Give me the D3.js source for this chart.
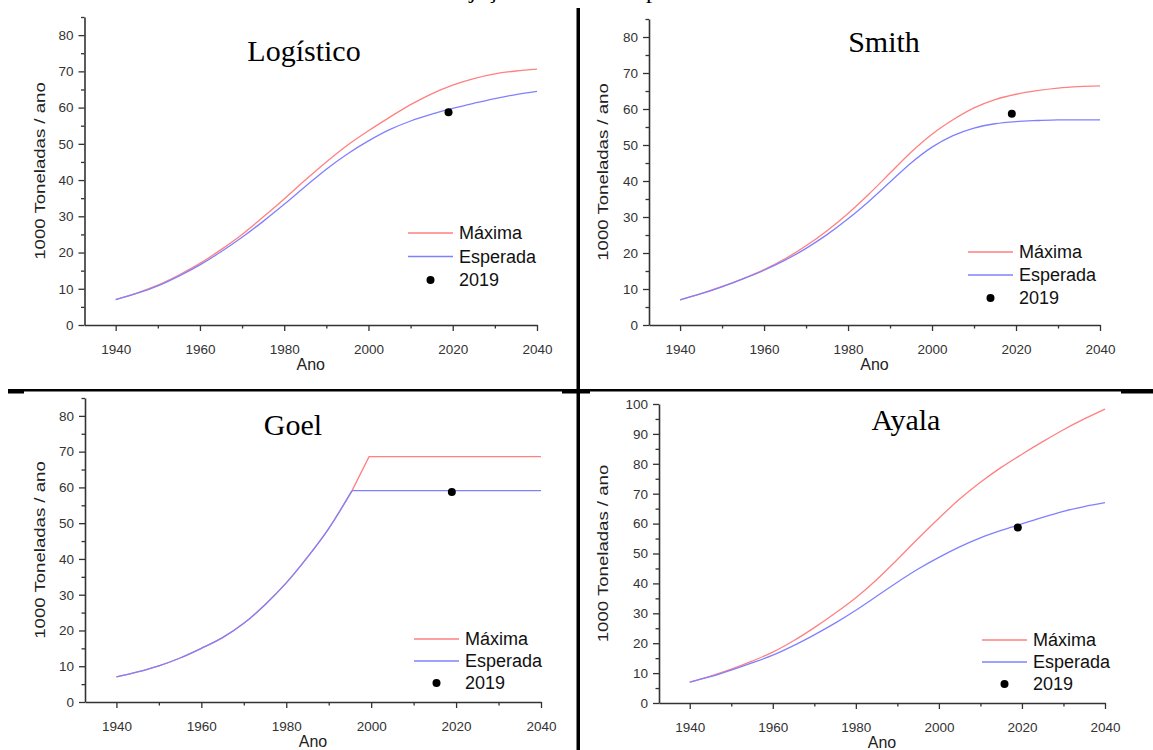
<!DOCTYPE html>
<html>
<head>
<meta charset="utf-8">
<script src="https://cdn.jsdelivr.net/npm/d3@7"></script>
<style>
  body { margin: 0; background: #fff; }
  svg { display: block; }
  .tick text { font-family: "Liberation Sans", Arial, sans-serif; fill: #333; }
  .domain, .tick line { stroke: #333; }
</style>
</head>
<body>
<div id="chart"></div>
<script>
// data
const years = [1940, 1945, 1950, 1955, 1960, 1965, 1970, 1975, 1980, 1985, 1990,
               1995, 2000, 2005, 2010, 2015, 2020, 2025, 2030, 2035, 2040];

const logisticoMax = [7.0, 8.8, 11.0, 13.8, 17.0, 20.8, 25.0, 29.8, 34.8, 40.0, 45.0,
                      49.6, 53.6, 57.3, 60.8, 63.8, 66.2, 68.0, 69.3, 70.1, 70.6];
const logisticoEsp = [7.0, 8.7, 10.8, 13.5, 16.6, 20.2, 24.2, 28.6, 33.3, 38.2, 43.0,
                      47.2, 50.8, 53.9, 56.3, 58.2, 59.8, 61.2, 62.5, 63.6, 64.5];

const smithMax = [7.0, 8.7, 10.7, 12.9, 15.4, 18.4, 22.0, 26.2, 31.0, 36.4, 42.2,
                  48.0, 53.0, 57.0, 60.3, 62.6, 64.1, 65.1, 65.8, 66.2, 66.4];
const smithEsp = [7.0, 8.7, 10.6, 12.8, 15.2, 18.0, 21.3, 25.1, 29.5, 34.4, 39.7,
                  45.0, 49.4, 52.6, 54.7, 55.9, 56.5, 56.8, 57.0, 57.0, 57.0];

const ayalaMax = [7.0, 9.0, 11.3, 14.0, 17.0, 20.8, 25.2, 30.0, 35.2, 41.2, 48.0,
                  55.0, 61.8, 68.2, 73.8, 78.8, 83.2, 87.4, 91.4, 95.0, 98.3];
const ayalaEsp = [7.0, 8.8, 11.0, 13.4, 16.0, 19.2, 22.8, 26.7, 31.0, 35.7, 40.4,
                  44.8, 48.7, 52.2, 55.2, 57.7, 59.9, 62.1, 64.1, 65.7, 67.0];

const goelYearsMax = [1940, 1945, 1950, 1955, 1960, 1965, 1970, 1975, 1980, 1985, 1990, 1995.5, 1999.5, 2040];
const goelMax = [7.0, 8.4, 10.1, 12.3, 15.0, 18.0, 22.0, 27.2, 33.3, 40.5, 48.5, 59.1, 68.6, 68.6];
const goelYearsEsp = [1940, 1945, 1950, 1955, 1960, 1965, 1970, 1975, 1980, 1985, 1990, 1995.5, 2040];
const goelEsp = [7.0, 8.4, 10.1, 12.3, 15.0, 18.0, 22.0, 27.2, 33.3, 40.5, 48.5, 59.1, 59.1];
const goelKink = 1995.5; // smooth growth up to here, straight segments after

const obsYear = [2019];
const obsValue = [58.7];

const xTicks = [1940, 1960, 1980, 2000, 2020, 2040];
const titles = ["Logístico", "Smith", "Goel", "Ayala"];
const legendLabels = ["Máxima", "Esperada", "2019"];

const W = 1153, H = 750;
const red = "#ff8080", blue = "#8080ff";
const sans = "'Liberation Sans', Arial, sans-serif";
const serif = "'Liberation Serif', 'Times New Roman', serif";

const svg = d3.select("#chart").append("svg")
    .attr("width", W)
    .attr("height", H);

// caption above the figure, cut off by the page edge
svg.append("text")
    .attr("x", 436)
    .attr("y", -2)
    .style("font-family", serif)
    .style("font-size", "24px")
    .text("Projeção máxima e esperada");

// panel layout
const panels = [
    {title: titles[0], xs: [years, years], max: logisticoMax, esp: logisticoEsp,
     left: 84.5, right: 537, top: 17, bottom: 325, yMax: 85,
     yLabelX: 40, titleX: 304, titleY: 61, legX: 408, legY: 233, legGap: 23.5},
    {title: titles[1], xs: [years, years], max: smithMax, esp: smithEsp,
     left: 649, right: 1100, top: 19, bottom: 325, yMax: 85,
     yLabelX: 603, titleX: 884, titleY: 52, legX: 968, legY: 252, legGap: 23},
    {title: titles[2], xs: [goelYearsMax, goelYearsEsp], max: goelMax, esp: goelEsp, kink: goelKink,
     left: 85, right: 541, top: 398, bottom: 702, yMax: 85,
     yLabelX: 40, titleX: 293, titleY: 435, legX: 414, legY: 639, legGap: 22},
    {title: titles[3], xs: [years, years], max: ayalaMax, esp: ayalaEsp,
     left: 659, right: 1105, top: 404, bottom: 703, yMax: 100,
     yLabelX: 603, titleX: 906, titleY: 430, legX: 982, legY: 640, legGap: 22}
];

panels.forEach(p => {
    const g = svg.append("g");
    const x = d3.scaleLinear().domain([1932.6, 2040]).range([p.left, p.right]);
    const y = d3.scaleLinear().domain([0, p.yMax]).range([p.bottom, p.top]);

    const yMajor = d3.range(0, p.yMax + 1, 10);
    const yMinor = d3.range(5, p.yMax + 1, 10);
    const xMinor = d3.range(1950, 2040, 20);

    // minor ticks
    g.append("g")
        .attr("transform", `translate(0,${p.bottom})`)
        .call(d3.axisBottom(x).tickValues(xMinor).tickSize(3.5).tickFormat("").tickSizeOuter(0))
        .call(a => a.select(".domain").remove());
    g.append("g")
        .attr("transform", `translate(${p.left},0)`)
        .call(d3.axisLeft(y).tickValues(yMinor).tickSize(3.5).tickFormat("").tickSizeOuter(0))
        .call(a => a.select(".domain").remove());

    // major axes
    g.append("g")
        .attr("transform", `translate(0,${p.bottom})`)
        .call(d3.axisBottom(x).tickValues(xTicks).tickSize(6).tickPadding(13).tickSizeOuter(0).tickFormat(d3.format("d")))
        .call(a => a.selectAll("text").style("font-size", "13.5px"));
    g.append("g")
        .attr("transform", `translate(${p.left},0)`)
        .call(d3.axisLeft(y).tickValues(yMajor).tickSize(6).tickPadding(5).tickSizeOuter(0))
        .call(a => a.selectAll("text").style("font-size", "13.5px"));

    g.selectAll(".domain").attr("stroke-width", 1.6);
    g.selectAll(".tick line").attr("stroke-width", 1.3);

    // axis titles
    g.append("text")
        .attr("x", (p.left + p.right) / 2)
        .attr("y", p.bottom + 45)
        .attr("text-anchor", "middle")
        .style("font-family", sans)
        .style("font-size", "16px")
        .style("fill", "#222")
        .text("Ano");
    g.append("text")
        .attr("transform", `translate(${p.yLabelX},${(p.top + p.bottom) / 2}) rotate(-90) scale(1.2,1)`)
        .attr("text-anchor", "middle")
        .attr("dy", "0.35em")
        .style("font-family", sans)
        .style("font-size", "15.5px")
        .style("fill", "#222")
        .text("1000 Toneladas / ano");

    // curves: smooth where the model grows, straight after a cap (Goel)
    const drawSeries = (vals, xs, color) => {
        const pts = vals.map((v, i) => [xs[i], v]);
        const smooth = p.kink ? pts.filter(d => d[0] <= p.kink) : pts;
        const rest = p.kink ? pts.filter(d => d[0] >= p.kink) : [];
        const line = c => d3.line().x(d => x(d[0])).y(d => y(d[1])).curve(c);
        g.append("path").datum(smooth)
            .attr("d", line(d3.curveMonotoneX))
            .attr("fill", "none").attr("stroke", color).attr("stroke-width", 1.3);
        if (rest.length > 1) {
            g.append("path").datum(rest)
                .attr("d", line(d3.curveLinear))
                .attr("fill", "none").attr("stroke", color).attr("stroke-width", 1.3);
        }
    };
    drawSeries(p.max, p.xs[0], red);
    drawSeries(p.esp, p.xs[1], blue);

    g.selectAll("circle.obs").data(obsValue).join("circle")
        .attr("class", "obs")
        .attr("cx", (d, i) => x(obsYear[i]))
        .attr("cy", d => y(d))
        .attr("r", 4)
        .attr("fill", "#000");

    // title
    g.append("text")
        .attr("x", p.titleX)
        .attr("y", p.titleY)
        .attr("text-anchor", "middle")
        .style("font-family", serif)
        .style("font-size", "30px")
        .text(p.title);

    // legend
    const leg = g.append("g").attr("transform", `translate(${p.legX},${p.legY})`);
    [red, blue].forEach((c, i) => {
        leg.append("line")
            .attr("x1", 0).attr("x2", 45)
            .attr("y1", i * p.legGap).attr("y2", i * p.legGap)
            .attr("stroke", c).attr("stroke-width", 1.3);
    });
    leg.append("circle")
        .attr("cx", 22.5).attr("cy", 2 * p.legGap)
        .attr("r", 4).attr("fill", "#000");
    legendLabels.forEach((t, i) => {
        leg.append("text")
            .attr("x", 51)
            .attr("y", i * p.legGap)
            .attr("dy", "0.35em")
            .style("font-family", sans)
            .style("font-size", "18px")
            .style("fill", "#111")
            .text(t);
    });
});

// frame dividers between panels
svg.append("rect").attr("x", 576.5).attr("y", 8).attr("width", 3.5).attr("height", H - 8).attr("fill", "#000");
svg.append("rect").attr("x", 8).attr("y", 389).attr("width", W - 8).attr("height", 2.5).attr("fill", "#000");
[[8, 24], [562, 590], [1121, 1153]].forEach(([a, b]) => {
    svg.append("rect").attr("x", a).attr("y", 389).attr("width", b - a).attr("height", 4.5).attr("fill", "#000");
});
</script>
</body>
</html>
